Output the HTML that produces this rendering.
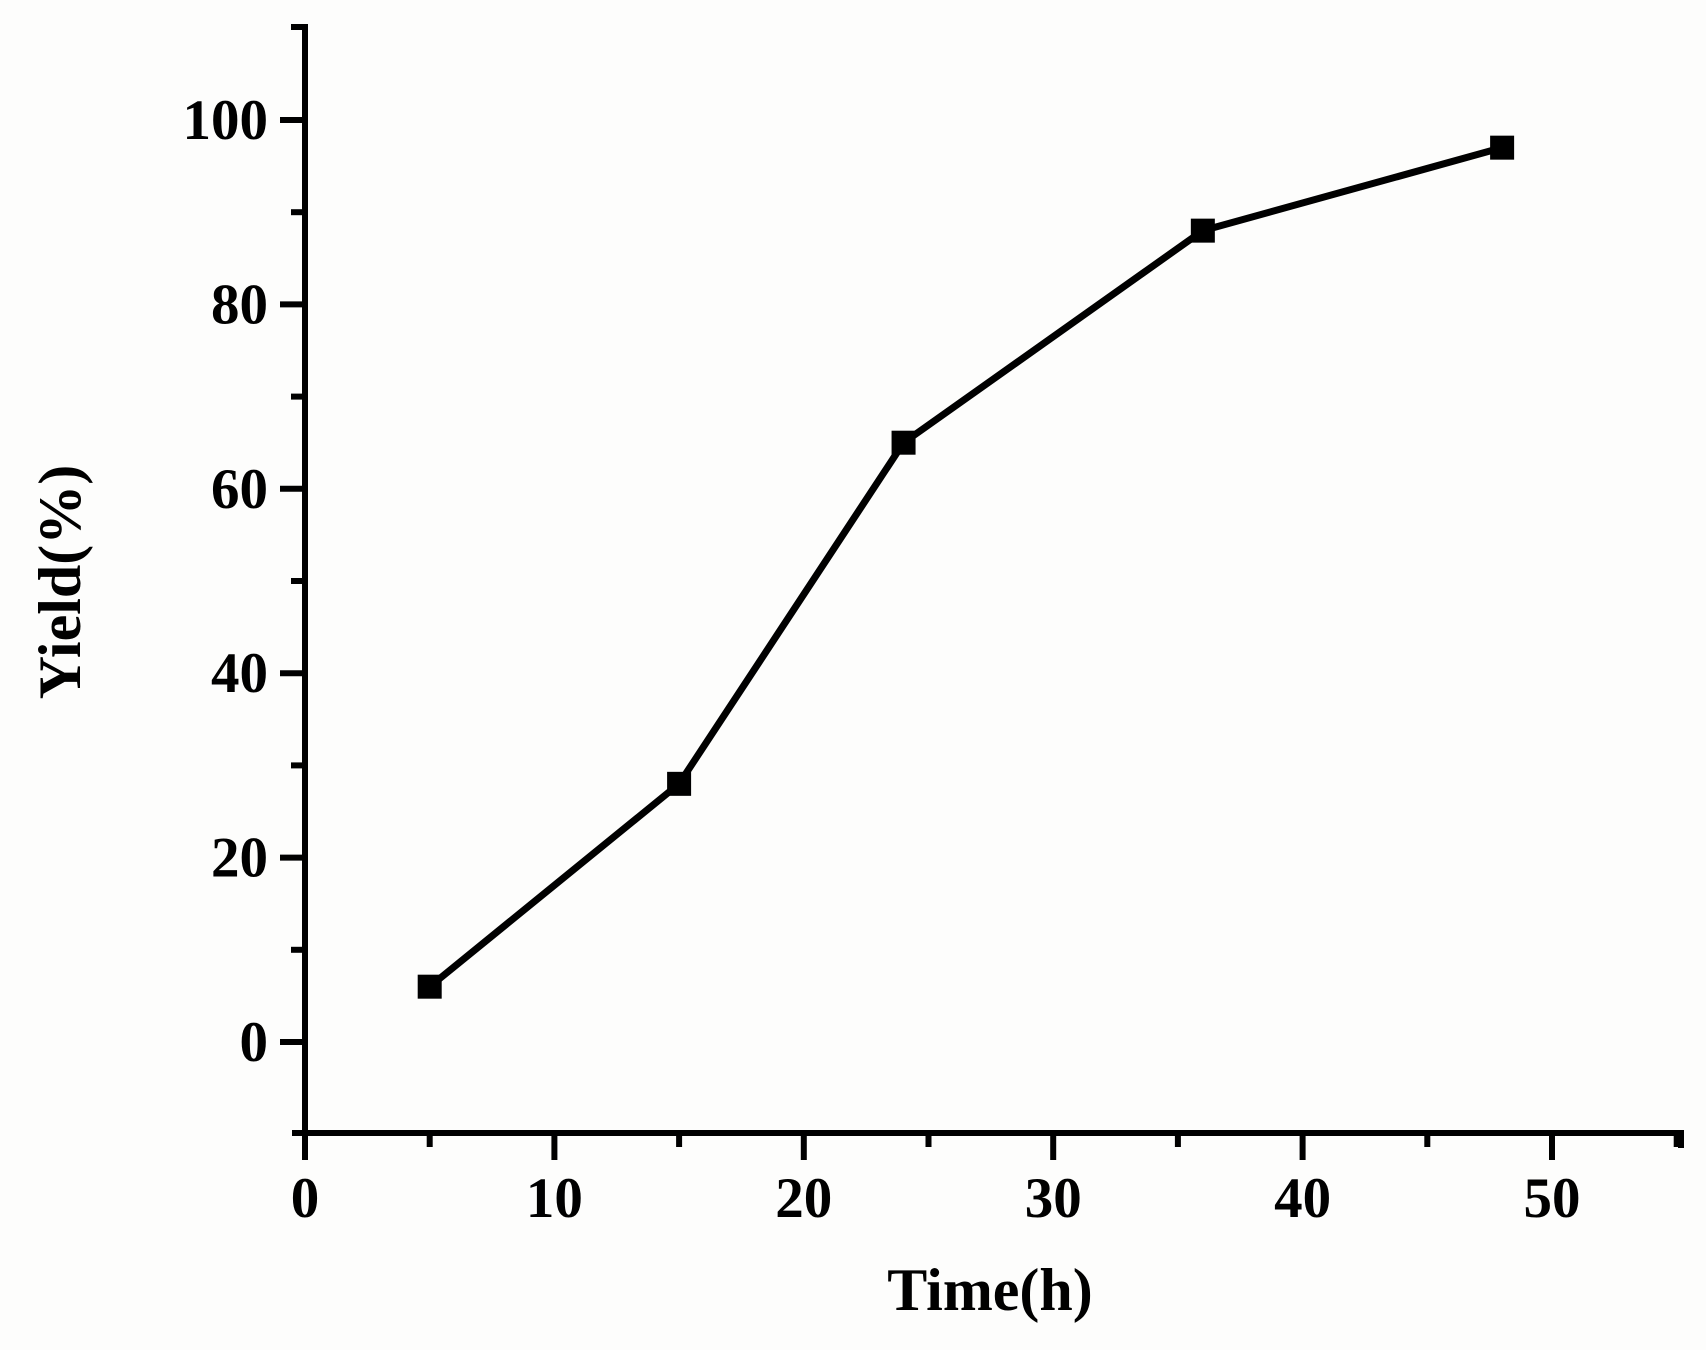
<!DOCTYPE html>
<html><head><meta charset="utf-8"><style>
html,body{margin:0;padding:0;background:#fff}
svg{display:block}
text{font-family:"Liberation Serif",serif;font-weight:bold;fill:#000}
</style></head><body>
<svg id="chart" width="1706" height="1350" viewBox="0 0 1706 1350">
<rect x="0" y="0" width="1706" height="1350" fill="#fdfdfc"/>
<g id="axes"></g>
<g id="series"></g>
<text x="990" y="1310" font-size="60" text-anchor="middle">Time(h)</text>
<text transform="translate(80,582) rotate(-90)" font-size="60" text-anchor="middle">Yield(%)</text>
</svg>
<script>
const times = [5, 15, 24, 36, 48];
const yields = [6, 28, 65, 88, 97];
const xTicks = [0, 10, 20, 30, 40, 50];
const yTicks = [0, 20, 40, 60, 80, 100];
const xMinor = [5, 15, 25, 35, 45, 55];
const yMinor = [10, 30, 50, 70, 90];

const NS = 'http://www.w3.org/2000/svg';
function X(v){ return 305 + v * 24.94; }
function Y(v){ return 1042 - v * 9.22; }
function mk(tag, attrs, parent){
  const e = document.createElementNS(NS, tag);
  for (const k in attrs) e.setAttribute(k, attrs[k]);
  parent.appendChild(e);
  return e;
}
const axes = document.getElementById('axes');
const series = document.getElementById('series');

let el = mk('line', {x1:305, y1:24, x2:305, y2:1160, stroke:'#000', 'stroke-width':6}, axes);


el = mk('line', {x1:291, y1:27, x2:308, y2:27, stroke:'#000', 'stroke-width':6}, axes);


el = mk('line', {x1:292, y1:1133, x2:1684, y2:1133, stroke:'#000', 'stroke-width':6}, axes);


el = mk('line', {x1:1681, y1:1133, x2:1681, y2:1148, stroke:'#000', 'stroke-width':6}, axes);



xTicks.forEach(v => {
  const t = mk('line', {x1:X(v), y1:1133, x2:X(v), y2:1160, stroke:'#000', 'stroke-width':6}, axes);
  
  
  const l = mk('text', {x:X(v), y:1217, 'font-size':57, 'text-anchor':'middle'}, axes);
  l.textContent = v;
  
  
});
xMinor.forEach(v => {
  const t = mk('line', {x1:X(v), y1:1133, x2:X(v), y2:1147, stroke:'#000', 'stroke-width':6}, axes);
  
  
});
yTicks.forEach(v => {
  const t = mk('line', {x1:280, y1:Y(v), x2:305, y2:Y(v), stroke:'#000', 'stroke-width':6}, axes);
  
  
  const l = mk('text', {x:268, y:Y(v)+19, 'font-size':57, 'text-anchor':'end'}, axes);
  l.textContent = v;
  
  
});
yMinor.forEach(v => {
  const t = mk('line', {x1:291, y1:Y(v), x2:305, y2:Y(v), stroke:'#000', 'stroke-width':6}, axes);
  
  
});

const pts = times.map((t, i) => X(t) + ',' + Y(yields[i])).join(' ');
const pl = mk('polyline', {points:pts, fill:'none', stroke:'#000', 'stroke-width':7, 'stroke-linejoin':'round'}, series);


times.forEach((t, i) => {
  const r = mk('rect', {x:X(t)-12, y:Y(yields[i])-12, width:24, height:24, fill:'#000'}, series);
  
  
});
</script>
</body></html>
